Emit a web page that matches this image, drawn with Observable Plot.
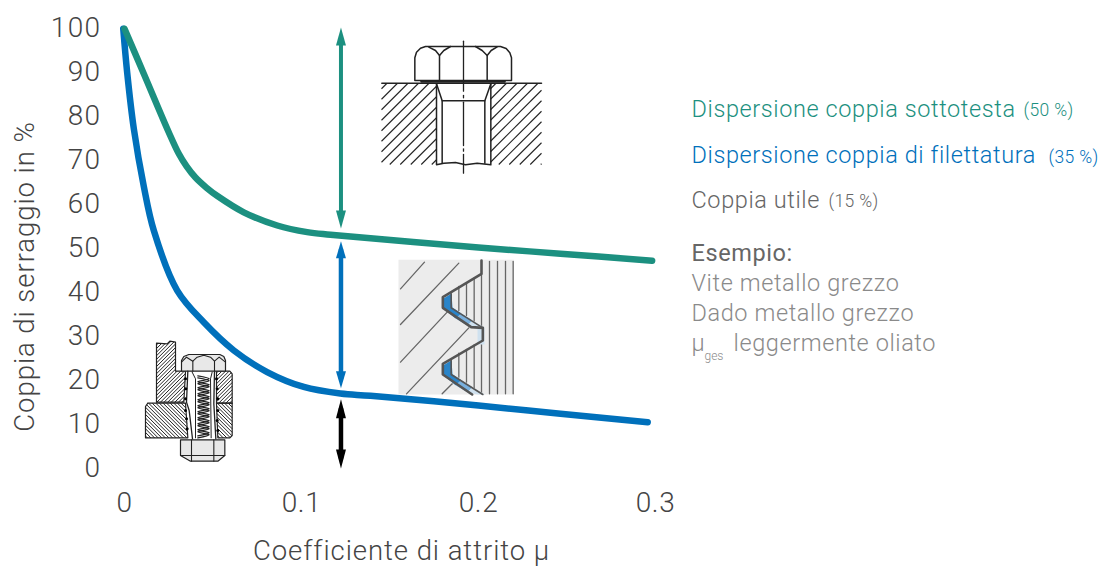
<!DOCTYPE html>
<html><head><meta charset="utf-8">
<script src="https://cdn.jsdelivr.net/npm/d3@7"></script>
<script src="https://cdn.jsdelivr.net/npm/@observablehq/plot@0.6"></script>
<style>html,body{margin:0;padding:0;background:#fff}svg{display:block;overflow:visible}
g[aria-label="y-axis tick label"] text{letter-spacing:1.4px}
g[aria-label="x-axis tick label"] text{letter-spacing:.6px}
.ls-title text{letter-spacing:.95px}
.ls-leg text{letter-spacing:.6px}
.ls-leg2 text{letter-spacing:.6px}
.ls-pct text{letter-spacing:.35px}
</style>
</head><body><div id="chart"></div>
<script>
// ---------- chart data ----------
const xTicks = [0, 0.1, 0.2, 0.3];
const xTickLabels = ["0", "0.1", "0.2", "0.3"];
const yTicks = [0, 10, 20, 30, 40, 50, 60, 70, 80, 90, 100];
const greenX = [0, 0.0109, 0.0250, 0.0307, 0.0350, 0.0401, 0.0463, 0.0525, 0.0674, 0.0863, 0.1032, 0.1164, 0.2, 0.2463, 0.2981];
const greenY = [99.7, 89.5, 76.2, 71.3, 68.5, 65.9, 63.6, 61.7, 58.0, 55.0, 53.5, 52.9, 50.0, 48.6, 47.0];
const blueX = [-0.0007, 0.0015, 0.0053, 0.0109, 0.0166, 0.0298, 0.0448, 0.0618, 0.0806, 0.1013, 0.1220, 0.1390, 0.2, 0.2463, 0.2956];
const blueY = [99.7, 89.8, 76.9, 63.9, 53.8, 40.2, 33.0, 26.6, 21.7, 18.3, 16.8, 16.3, 14.1, 12.2, 10.3];
const arrowX = 0.1223;
const arrowGreen = [100, 54.3];
const arrowBlue = [51.4, 18.0];
const arrowBlack = [15.5, -0.2];
const xTitle = "Coefficiente di attrito μ";
const yTitle = "Coppia di serraggio in %";
const legendMain = ["Dispersione coppia sottotesta", "Dispersione coppia di filettatura", "Coppia utile"];
const legendPct = ["(50 %)", "(35 %)", "(15 %)"];
const exampleHead = "Esempio:";
const exampleLines = ["Vite metallo grezzo", "Dado metallo grezzo", "leggermente oliato"];
const GREEN = "#1c9080", BLUE = "#0070bb", TXT = "#555555", LIGHT = "#8a8a8a", INK = "#222222";

// ---------- frame ----------
const L = 124, R = 655, T = 27, B = 467;
const ux = p => (p - L) / (R - L) * 0.3;
const uy = p => (B - p) / (B - T) * 100;
const pts = a => a.map(([x, y]) => ({x: ux(x), y: uy(y)}));
const series = (xs, ys) => xs.map((x, i) => ({x, y: ys[i]}));

// drawing helpers for the small technical illustrations
const poly = (a, o = {}) => Plot.line(pts(a), {x: "x", y: "y", stroke: INK, strokeWidth: 1.2, ...o});
const shape = (a, fill) => Plot.line(pts(a), {x: "x", y: "y", fill, stroke: "none"});
function hatchPolygon(a, step, dir) {
  const segs = [];
  const cs = a.map(([x, y]) => dir > 0 ? x + y : x - y);
  for (let c = d3.min(cs) + step / 2; c < d3.max(cs); c += step) {
    const hits = [];
    a.forEach((p, i) => {
      const q = a[(i + 1) % a.length];
      const f = pp => dir > 0 ? pp[0] + pp[1] - c : pp[0] - pp[1] - c;
      const fa = f(p), fb = f(q);
      if ((fa < 0) !== (fb < 0)) {
        const t = fa / (fa - fb);
        hits.push([p[0] + t * (q[0] - p[0]), p[1] + t * (q[1] - p[1])]);
      }
    });
    hits.sort((m, n) => m[0] - n[0]);
    for (let i = 0; i + 1 < hits.length; i += 2) segs.push({x1: ux(hits[i][0]), y1: uy(hits[i][1]), x2: ux(hits[i + 1][0]), y2: uy(hits[i + 1][1])});
  }
  return segs;
}
const hatch = (a, step, dir, o = {}) => Plot.link(hatchPolygon(a, step, dir), {x1: "x1", y1: "y1", x2: "x2", y2: "y2", stroke: INK, strokeWidth: 1, ...o});
const Z1 = ([x, y]) => [360 + x / 3, 20 + y / 3];
const Z2 = ([x, y]) => [380 + x / 3, 250 + y / 3];
const Z3 = ([x, y]) => [130 + x / 3, 330 + y / 3];

// ----- top bolt -----
const bolt = [];
const headOutline = [[163,180],[163,112],[168,95],[180,83],[195,78],[420,78],[437,84],[448,97],[453,112],[453,180],[163,180]].map(Z1);
const lobes = [
  [[237,180],[237,105],[225,90],[205,80]],
  [[237,105],[250,90],[270,78]],
  [[380,180],[380,105],[365,90],[345,78]],
  [[380,105],[392,90],[410,79]]
].map(l => l.map(Z1));
bolt.push(hatch([[381,83],[436,83],[436,164],[381,164]], 10.5, 1, {strokeWidth: 1.1}));
bolt.push(hatch([[490,83],[541,83],[541,164],[490,164]], 10.5, 1, {strokeWidth: 1.1}));
bolt.push(poly(headOutline, {strokeWidth: 1.5}));
lobes.forEach(l => bolt.push(poly(l, {strokeWidth: 1.5})));
bolt.push(poly([[64,188],[543,188]].map(Z1), {strokeWidth: 1.5}));
bolt.push(poly([[183,183],[432,183]].map(Z1), {strokeWidth: 2.5}));
bolt.push(poly([[228,190],[228,433],[250,428],[285,426],[315,433],[350,428],[391,433],[391,190]].map(Z1), {strokeWidth: 1.5}));
bolt.push(poly([[228,190],[245,241],[245,428]].map(Z1), {strokeWidth: 1.5}));
bolt.push(poly([[391,190],[373,241],[373,428]].map(Z1), {strokeWidth: 1.5}));
bolt.push(poly([[245,241],[373,241]].map(Z1), {strokeWidth: 1.5}));
[[[309,62],[309,212]],[[309,225],[309,232]],[[309,245],[309,375]],[[309,385],[309,392]],[[309,402],[309,458]]]
  .forEach(s => bolt.push(poly(s.map(Z1), {strokeWidth: 1.3})));

// ----- thread detail -----
const thread = [];
const bgRect = [[54,28],[400,28],[400,432],[54,432]].map(Z2);
thread.push(shape(bgRect, "#ececec"));
[[[60,115],[132,35]],[[60,222],[235,38]],[[60,335],[200,185]],[[78,430],[265,232]],[[185,430],[215,400]]]
  .forEach(s => thread.push(poly(s.map(Z2), {stroke: "#666", strokeWidth: 1.3})));
[[235,108,180],[258,97,195],[281,83,212],[303,70,430],[327,33,430],[351,33,430],[375,33,430],[398,33,430],[235,308,380],[258,297,395],[281,283,412]]
  .forEach(([x, a, b]) => thread.push(poly([[x,a],[x,b]].map(Z2), {stroke: "#666", strokeWidth: 1.3})));
[0, 66.7].forEach(d => {
  const s = ([x, y]) => [x, Math.min(y + d, 394)];
  thread.push(shape([[443,298],[451,293],[452,307],[461,313],[455,318],[443,308]].map(s), "#2a84c8"));
  thread.push(shape([[461,313],[472,320],[467,325],[455,318]].map(s), "#79b0de"));
  thread.push(shape([[472,320],[484,327],[484,344],[477,344],[477,329],[467,325]].map(s), "#cfe1ef"));
});
thread.push(poly([[303,30],[303,70],[187,140],[187,172],[272,230],[307,232],[307,270],[187,340],[187,372],[275,432]].map(Z2), {stroke: "#555", strokeWidth: 2.6}));
thread.push(poly([[212,130],[212,172],[307,232]].map(Z2), {stroke: "#555", strokeWidth: 1.6}));
thread.push(poly([[212,330],[212,372],[307,432]].map(Z2), {stroke: "#555", strokeWidth: 1.6}));

// ----- assembled joint -----
const joint = [];
const plateA = [[78,38],[110,40],[118,32],[135,35],[135,122],[165,122],[160,215],[78,215]].map(Z3);
const plateB = [[52,218],[165,218],[172,322],[45,322],[45,228]].map(Z3);
const plateC = [[258,122],[298,122],[305,130],[305,218],[258,218]].map(Z3);
const plateD = [[258,218],[305,218],[305,315],[298,322],[262,322]].map(Z3);
joint.push(hatch(plateA, 3.6, 1), hatch(plateB, 3.6, -1), hatch(plateC, 3.6, 1), hatch(plateD, 3.6, -1));
[plateA, plateB, plateC, plateD].forEach(p => joint.push(poly([...p, p[0]], {strokeWidth: 1.2})));
const headTop = [[153,122],[153,90],[160,78],[175,72],[268,72],[280,78],[285,90],[285,122],[153,122]].map(Z3);
joint.push(shape(headTop, "#e8e8e8"), poly(headTop, {strokeWidth: 1.2}));
[[[187,122],[187,92],[200,80],[220,74],[240,80],[252,92],[252,122]],[[153,95],[168,80],[187,92]],[[252,92],[266,80],[285,95]]]
  .forEach(l => joint.push(poly(l.map(Z3), {strokeWidth: 1.1})));
const nutBottom = [[150,328],[283,328],[283,375],[262,392],[180,392],[150,375],[150,328]].map(Z3);
joint.push(shape(nutBottom, "#e8e8e8"), poly(nutBottom, {strokeWidth: 1.2}));
[[[183,328],[183,392]],[[250,328],[250,392]],[[150,375],[283,375]]].forEach(l => joint.push(poly(l.map(Z3), {strokeWidth: 1.1})));
joint.push(poly([[172,122],[168,215],[176,240],[186,325]].map(Z3), {strokeWidth: 1.3}));
joint.push(poly([[252,122],[250,220],[256,325]].map(Z3), {strokeWidth: 1.3}));
joint.push(poly([[185,125],[195,145],[195,322]].map(Z3), {strokeWidth: 1}), poly([[245,125],[240,145],[242,322]].map(Z3), {strokeWidth: 1}));
const coilY = d3.range(136, 318, 9);
[0, 6].forEach(o => joint.push(Plot.line(pts(coilY.map((y, i) => [i % 2 ? 236 : 202, y + o]).map(Z3)), {x: "x", y: "y", curve: "catmull-rom", stroke: INK, strokeWidth: 1.3})));
const teeth = [[165,145],[166,175],[165,205],[165,240],[168,265],[170,295],[258,145],[260,175],[262,205],[262,240],[260,270],[262,300]];
joint.push(Plot.dot(pts(teeth.map(Z3)), {x: "x", y: "y", r: 1.5, fill: "#000"}));

// ----- arrows -----
function dblArrow([top, bottom], color, headW, headL, shaftW) {
  const dx = headW / 2 * 0.3 / (R - L), dy = headL * 100 / (B - T);
  const head = (tip, s) => series([arrowX, arrowX - dx, arrowX + dx], [tip, tip - s * dy, tip - s * dy]);
  const mk = {x: "x", y: "y", fill: color, stroke: "none"};
  return [
    Plot.ruleX([arrowX], {y1: top - dy / 2, y2: bottom + dy / 2, stroke: color, strokeWidth: shaftW}),
    Plot.line(head(top, 1), mk),
    Plot.line(head(bottom, -1), mk)
  ];
}

// ----- text helper -----
const txt = (s, px, py, o = {}) => Plot.text([s], {x: () => ux(px), y: () => uy(py), text: d => d, textAnchor: "start", fontSize: 23.5, fill: TXT, ...o});

const chart = Plot.plot({
  width: 1101, height: 567,
  marginLeft: L, marginRight: 1101 - R, marginTop: T, marginBottom: 567 - B,
  style: {fontFamily: "Roboto, sans-serif", fontWeight: 300, background: "#fff", overflow: "visible"},
  x: {domain: [0, 0.3], range: [L, R]},
  y: {domain: [0, 100], range: [B, T]},
  marks: [
    Plot.axisX({ticks: xTicks, tickFormat: d => xTickLabels[xTicks.indexOf(d)], tickSize: 0, tickPadding: 25, fontSize: 28, label: null, color: "#444", fontWeight: 300}),
    Plot.axisY({ticks: yTicks, tickSize: 0, tickPadding: 23, fontSize: 28, label: null, color: "#444", fontWeight: 300, dy: 1}),
    ...bolt, ...thread, ...joint,
    ...dblArrow(arrowGreen, GREEN, 10, 18, 4),
    ...dblArrow(arrowBlue, BLUE, 10, 17, 4.5),
    ...dblArrow(arrowBlack, "#000", 10, 19, 4.5),
    Plot.line(series(blueX, blueY), {x: "x", y: "y", curve: "catmull-rom", stroke: BLUE, strokeWidth: 6.5}),
    Plot.line(series(greenX, greenY), {x: "x", y: "y", curve: "catmull-rom", stroke: GREEN, strokeWidth: 6.5}),
    txt(xTitle, 401, 551, {textAnchor: "middle", fontSize: 27.5, fill: "#444", className: "ls-title"}),
    txt(yTitle, 25, 276, {textAnchor: "middle", rotate: -90, fontSize: 27.5, fill: "#444", className: "ls-title"}),
    txt(legendMain[0], 691, 109, {fill: GREEN, className: "ls-leg"}),
    txt(legendPct[0], 1023, 110, {fill: GREEN, fontSize: 17.5, className: "ls-pct"}),
    txt(legendMain[1], 691, 155, {fill: BLUE, className: "ls-leg"}),
    txt(legendPct[1], 1048, 157, {fill: BLUE, fontSize: 17.5, className: "ls-pct"}),
    txt(legendMain[2], 691, 200, {fill: "#666", className: "ls-leg2"}),
    txt(legendPct[2], 828, 201, {fill: "#666", fontSize: 17.5, className: "ls-pct"}),
    txt(exampleHead, 691, 253, {fill: "#666", fontWeight: 400, className: "ls-leg2"}),
    txt(exampleLines[0], 691, 283, {fill: LIGHT, className: "ls-leg2"}),
    txt(exampleLines[1], 691, 313, {fill: LIGHT, className: "ls-leg2"}),
    txt("μ", 691, 343, {fill: LIGHT}),
    txt("ges", 704, 356, {fill: LIGHT, fontSize: 12}),
    txt(exampleLines[2], 733, 343, {fill: LIGHT, className: "ls-leg2"})
  ]
});
document.getElementById("chart").append(chart);
</script></body></html>
